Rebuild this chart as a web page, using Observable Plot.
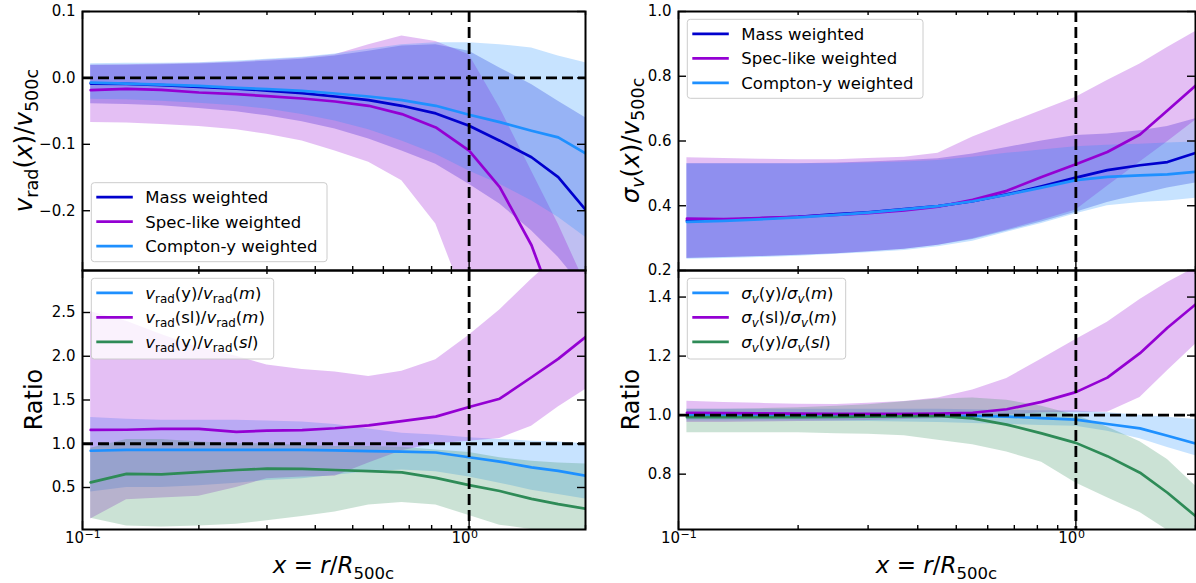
<!DOCTYPE html>
<html><head><meta charset="utf-8">
<script src="https://cdn.jsdelivr.net/npm/d3@7"></script>
<script src="https://cdn.jsdelivr.net/npm/@observablehq/plot@0.6"></script>
<style>
body{margin:0;background:#fff;}
#fig{position:relative;width:1196px;height:583px;font-family:"DejaVu Sans",sans-serif;overflow:hidden;}
</style></head><body><div id="fig"></div>
<script>
// radial bins x = r/R500c
const xs = [0.105, 0.13, 0.16, 0.2, 0.25, 0.3, 0.37, 0.45, 0.55, 0.67, 0.82, 1.0, 1.2, 1.45, 1.7, 2.0];
const xMajor = [0.1, 1];
const xMinor = [0.2, 0.3, 0.4, 0.5, 0.6, 0.7, 0.8, 0.9, 2];
const xMajorBase = ["10", "10"];
const xMajorExp = ["\u22121", "0"];

// top-left: v_rad / v500c
const vradMass   = [-0.0085, -0.009, -0.011, -0.0135, -0.016, -0.019, -0.023, -0.028, -0.0335, -0.042, -0.0535, -0.072, -0.0945, -0.1195, -0.1495, -0.1985];
const vradMassLo = [-0.039, -0.04, -0.042, -0.046, -0.051, -0.057, -0.066, -0.077, -0.092, -0.11, -0.13, -0.16, -0.19, -0.23, -0.27, -0.32];
const vradMassHi = [0.019, 0.019, 0.02, 0.021, 0.023, 0.025, 0.028, 0.033, 0.04, 0.048, 0.05, 0.04, 0.015, -0.01, -0.035, -0.06];
const vradSpec   = [-0.0185, -0.0165, -0.018, -0.022, -0.0245, -0.0275, -0.031, -0.0355, -0.042, -0.0545, -0.0745, -0.1095, -0.1645, -0.252, -0.36, -0.48];
const vradSpecLo = [-0.067, -0.068, -0.07, -0.073, -0.078, -0.085, -0.095, -0.11, -0.127, -0.155, -0.22, -0.35, -0.45, -0.55, -0.65, -0.75];
const vradSpecHi = [0.019, 0.02, 0.021, 0.022, 0.024, 0.027, 0.03, 0.035, 0.05, 0.063, 0.055, 0.035, -0.045, -0.14, -0.22, -0.31];
const vradY      = [-0.007, -0.0085, -0.01, -0.012, -0.015, -0.017, -0.0195, -0.0235, -0.028, -0.0335, -0.042, -0.0555, -0.0665, -0.0795, -0.0895, -0.1135];
const vradYLo    = [-0.032, -0.033, -0.035, -0.038, -0.042, -0.047, -0.055, -0.065, -0.078, -0.095, -0.115, -0.14, -0.16, -0.185, -0.21, -0.24];
const vradYHi    = [0.0215, 0.022, 0.022, 0.023, 0.0255, 0.028, 0.031, 0.036, 0.043, 0.05, 0.053, 0.053, 0.05, 0.045, 0.033, 0.023];

// bottom-left: v_rad ratios
const rYM   = [0.92, 0.93, 0.93, 0.93, 0.93, 0.93, 0.93, 0.925, 0.915, 0.91, 0.9, 0.846, 0.796, 0.73, 0.69, 0.635];
const rYMLo = [0.45, 0.5, 0.5, 0.52, 0.55, 0.58, 0.6, 0.64, 0.68, 0.7, 0.68, 0.62, 0.55, 0.47, 0.42, 0.37];
const rYMHi = [1.3, 1.28, 1.27, 1.27, 1.27, 1.26, 1.25, 1.22, 1.17, 1.12, 1.1, 1.07, 1.05, 1.03, 1.02, 1.0];
const rSM   = [1.158, 1.16, 1.17, 1.17, 1.135, 1.15, 1.155, 1.177, 1.21, 1.258, 1.31, 1.42, 1.515, 1.76, 1.97, 2.22];
const rSMLo = [0.14, 0.36, 0.38, 0.4, 0.5, 0.6, 0.62, 0.63, 0.78, 0.92, 1.0, 1.03, 1.06, 1.2, 1.42, 1.62];
const rSMHi = [2.51, 2.4, 2.25, 2.1, 2.0, 1.9, 1.85, 1.82, 1.77, 1.83, 1.96, 2.24, 2.53, 2.88, 3.15, 3.4];
const rYS   = [0.558, 0.655, 0.65, 0.675, 0.7, 0.715, 0.712, 0.7, 0.688, 0.673, 0.61, 0.527, 0.46, 0.37, 0.31, 0.258];
const rYSLo = [0.15, 0.06, 0.05, 0.06, 0.08, 0.12, 0.17, 0.22, 0.3, 0.33, 0.3, 0.18, 0.07, 0.02, 0.01, 0.0];
const rYSHi = [0.95, 1.05, 1.05, 1.02, 1.0, 1.0, 0.98, 0.97, 0.97, 0.96, 0.93, 0.9, 0.84, 0.8, 0.78, 0.77];

// top-right: sigma_v / v500c
const sigMass   = [0.354, 0.356, 0.361, 0.366, 0.374, 0.38, 0.39, 0.399, 0.414, 0.435, 0.46, 0.487, 0.51, 0.525, 0.535, 0.563];
const sigMassLo = [0.237, 0.24, 0.243, 0.247, 0.252, 0.258, 0.266, 0.278, 0.296, 0.322, 0.35, 0.38, 0.41, 0.435, 0.455, 0.47];
const sigMassHi = [0.53, 0.53, 0.53, 0.53, 0.532, 0.535, 0.54, 0.545, 0.56, 0.58, 0.6, 0.617, 0.622, 0.632, 0.645, 0.669];
const sigSpec   = [0.36, 0.359, 0.362, 0.366, 0.372, 0.377, 0.386, 0.397, 0.418, 0.446, 0.489, 0.528, 0.566, 0.62, 0.694, 0.771];
const sigSpecLo = [0.238, 0.24, 0.243, 0.247, 0.252, 0.258, 0.266, 0.278, 0.298, 0.325, 0.355, 0.387, 0.46, 0.535, 0.598, 0.664];
const sigSpecHi = [0.548, 0.546, 0.544, 0.542, 0.542, 0.546, 0.55, 0.562, 0.612, 0.653, 0.694, 0.735, 0.787, 0.838, 0.889, 0.938];
const sigY      = [0.35, 0.353, 0.358, 0.364, 0.372, 0.379, 0.389, 0.399, 0.414, 0.434, 0.456, 0.479, 0.489, 0.494, 0.497, 0.505];
const sigYLo    = [0.235, 0.237, 0.24, 0.244, 0.25, 0.255, 0.262, 0.273, 0.29, 0.318, 0.345, 0.375, 0.4, 0.41, 0.415, 0.423];
const sigYHi    = [0.53, 0.53, 0.53, 0.53, 0.53, 0.532, 0.535, 0.54, 0.55, 0.562, 0.572, 0.582, 0.587, 0.59, 0.594, 0.597];

// bottom-right: sigma_v ratios
const sYM   = [0.999, 0.999, 0.999, 0.999, 0.999, 0.999, 0.999, 0.998, 0.997, 0.995, 0.99, 0.985, 0.97, 0.955, 0.93, 0.904];
const sYMLo = [0.98, 0.98, 0.98, 0.98, 0.979, 0.978, 0.977, 0.975, 0.972, 0.968, 0.965, 0.962, 0.945, 0.92, 0.89, 0.862];
const sYMHi = [1.02, 1.02, 1.02, 1.02, 1.02, 1.02, 1.02, 1.02, 1.018, 1.016, 1.015, 1.014, 1.008, 1.0, 0.993, 0.985];
const sSM   = [1.008, 1.007, 1.006, 1.005, 1.004, 1.004, 1.004, 1.005, 1.008, 1.02, 1.045, 1.078, 1.127, 1.21, 1.296, 1.375];
const sSMLo = [0.975, 0.975, 0.977, 0.978, 0.98, 0.982, 0.985, 0.988, 0.993, 1.0, 1.008, 1.01, 1.01, 1.06, 1.15, 1.24];
const sSMHi = [1.047, 1.043, 1.04, 1.037, 1.036, 1.04, 1.046, 1.058, 1.085, 1.124, 1.19, 1.256, 1.315, 1.392, 1.449, 1.5];
const sYS   = [0.993, 0.993, 0.993, 0.993, 0.994, 0.995, 0.996, 0.997, 0.989, 0.968, 0.938, 0.906, 0.861, 0.805, 0.737, 0.658];
const sYSLo = [0.94, 0.94, 0.94, 0.94, 0.937, 0.935, 0.93, 0.915, 0.9, 0.875, 0.84, 0.77, 0.72, 0.67, 0.61, 0.58];
const sYSHi = [1.02, 1.02, 1.022, 1.025, 1.03, 1.035, 1.045, 1.055, 1.058, 1.05, 1.03, 1.0, 0.96, 0.91, 0.85, 0.76];

const cMass = "#0000cd", cSpec = "#9400d3", cY = "#1e90ff", cGreen = "#2e8b57";

const fig = document.getElementById("fig");

function makePanel(o) {
  const pw = o.width - o.mL - o.mR, ph = o.height - o.mT - o.mB;
  const rows = xs.map((x, i) => ({x, i}));
  const dash = {stroke: "black", strokeWidth: 2.8, strokeDasharray: "11,5"};
  const tk = {stroke: "black", strokeWidth: 1.4};
  const marks = [];
  o.bands.forEach(b => marks.push(Plot.areaY(rows, {x: "x", y1: d => b.lo[d.i], y2: d => b.hi[d.i], fill: b.color, fillOpacity: 0.25, clip: true})));
  o.lines.forEach(l => marks.push(Plot.line(rows, {x: "x", y: d => l.v[d.i], stroke: l.color, strokeWidth: 2.7, clip: true})));
  if (o.hline != null) marks.push(Plot.ruleY([o.hline], dash));
  marks.push(Plot.ruleX([1], dash));
  marks.push(Plot.ruleY(o.yTicks, {y: d => d, insetRight: pw - 8, ...tk}));
  marks.push(Plot.ruleY(o.yTicks, {y: d => d, insetLeft: pw - 8, ...tk}));
  marks.push(Plot.ruleX(xMajor, {x: d => d, insetTop: ph - 8, ...tk}));
  marks.push(Plot.ruleX(xMajor, {x: d => d, insetBottom: ph - 8, ...tk}));
  marks.push(Plot.ruleX(xMinor, {x: d => d, insetTop: ph - 4, ...tk}));
  marks.push(Plot.ruleX(xMinor, {x: d => d, insetBottom: ph - 4, ...tk}));
  marks.push(Plot.axisY({ticks: o.yTicks, tickSize: 0, tickPadding: 7, tickFormat: d3.format(o.fmt), fontSize: 15, label: null}));
  if (o.xAxis) {
    const idx = xMajor.map((d, i) => i);
    marks.push(Plot.text(idx, {x: i => xMajor[i], text: i => xMajorBase[i], frameAnchor: "bottom", textAnchor: "end", dx: 1.5, dy: 13.5, fontSize: 15}));
    marks.push(Plot.text(idx, {x: i => xMajor[i], text: i => xMajorExp[i], frameAnchor: "bottom", textAnchor: "start", dx: 2, dy: 8.5, fontSize: 11}));
  }
  marks.push(Plot.frame({stroke: "black", strokeWidth: 2}));
  const svg = Plot.plot({
    width: o.width, height: o.height,
    marginLeft: o.mL, marginRight: o.mR, marginTop: o.mT, marginBottom: o.mB,
    x: {type: "log", domain: [0.1, 2], axis: null}, y: {domain: o.yDomain},
    style: {fontFamily: "DejaVu Sans", fontSize: "15px", color: "black", background: "transparent", overflow: "visible"},
    marks
  });
  svg.style.position = "absolute";
  svg.style.left = o.left + "px";
  svg.style.top = o.top + "px";
  fig.appendChild(svg);
}

// Top-left
makePanel({left: 0, top: 0, width: 600, height: 280, mL: 82, mR: 15, mT: 11, mB: 10,
  yDomain: [-0.29, 0.1], yTicks: [-0.2, -0.1, 0, 0.1], fmt: ".1f", hline: 0, xAxis: false,
  bands: [{lo: vradMassLo, hi: vradMassHi, color: cMass}, {lo: vradSpecLo, hi: vradSpecHi, color: cSpec}, {lo: vradYLo, hi: vradYHi, color: cY}],
  lines: [{v: vradMass, color: cMass}, {v: vradSpec, color: cSpec}, {v: vradY, color: cY}]});
// Bottom-left
makePanel({left: 0, top: 260, width: 600, height: 323, mL: 82, mR: 15, mT: 10, mB: 54,
  yDomain: [0.02, 2.98], yTicks: [0.5, 1, 1.5, 2, 2.5], fmt: ".1f", hline: 1, xAxis: true,
  bands: [{lo: rYMLo, hi: rYMHi, color: cY}, {lo: rSMLo, hi: rSMHi, color: cSpec}, {lo: rYSLo, hi: rYSHi, color: cGreen}],
  lines: [{v: rYM, color: cY}, {v: rSM, color: cSpec}, {v: rYS, color: cGreen}]});
// Top-right
makePanel({left: 596, top: 0, width: 600, height: 280, mL: 82, mR: 1, mT: 11, mB: 10,
  yDomain: [0.2, 1.0], yTicks: [0.2, 0.4, 0.6, 0.8, 1.0], fmt: ".1f", hline: null, xAxis: false,
  bands: [{lo: sigMassLo, hi: sigMassHi, color: cMass}, {lo: sigSpecLo, hi: sigSpecHi, color: cSpec}, {lo: sigYLo, hi: sigYHi, color: cY}],
  lines: [{v: sigMass, color: cMass}, {v: sigSpec, color: cSpec}, {v: sigY, color: cY}]});
// Bottom-right
makePanel({left: 596, top: 260, width: 600, height: 323, mL: 82, mR: 1, mT: 10, mB: 54,
  yDomain: [0.6125, 1.49], yTicks: [0.8, 1.0, 1.2, 1.4], fmt: ".1f", hline: 1, xAxis: true,
  bands: [{lo: sYMLo, hi: sYMHi, color: cY}, {lo: sSMLo, hi: sSMHi, color: cSpec}, {lo: sYSLo, hi: sYSHi, color: cGreen}],
  lines: [{v: sYM, color: cY}, {v: sSM, color: cSpec}, {v: sYS, color: cGreen}]});

// ---------- overlay: axis labels and legends ----------
const ov = d3.select(fig).append("svg")
  .attr("width", 1196).attr("height", 583)
  .style("position", "absolute").style("left", "0px").style("top", "0px")
  .style("font-family", "DejaVu Sans");

function rich(t, segs, size) {
  let shift = 0;
  for (const s of segs) {
    const sp = t.append("tspan").text(s.t);
    const target = s.sub ? size * 0.24 : 0;
    if (target !== shift) { sp.attr("dy", target - shift); shift = target; }
    if (s.sub) sp.attr("font-size", size * 0.72);
    if (s.i) sp.attr("font-style", "italic");
  }
}
function label(x, y, segs, size, rotate) {
  const t = ov.append("text").attr("font-size", size).attr("text-anchor", "middle")
    .attr("transform", `translate(${x},${y})` + (rotate ? " rotate(-90)" : ""));
  rich(t, segs, size);
}
const I = t => ({t, i: true}), S = t => ({t, sub: true}), SI = t => ({t, sub: true, i: true}), P = t => ({t});

label(32, 140.5, [I("v"), S("rad"), P("("), I("x"), P(")/"), I("v"), S("500c")], 24.5, true);
label(42, 399.5, [P("Ratio")], 24, true);
label(638.5, 140.5, [I("σ"), SI("v"), P("("), I("x"), P(")/"), I("v"), S("500c")], 24.5, true);
label(638.5, 399.5, [P("Ratio")], 24, true);
label(333.5, 573, [I("x"), P(" = "), I("r"), P("/"), I("R"), S("500c")], 23, false);
label(936.5, 573, [I("x"), P(" = "), I("r"), P("/"), I("R"), S("500c")], 23, false);

function legend(x, y, w, h, entries) {
  const g = ov.append("g");
  g.append("rect").attr("x", x).attr("y", y).attr("width", w).attr("height", h).attr("rx", 3)
    .attr("fill", "white").attr("fill-opacity", 0.8).attr("stroke", "#cccccc").attr("stroke-width", 1);
  entries.forEach((e, k) => {
    const ry = y + 14.5 + k * 24.5;
    g.append("line").attr("x1", x + 5).attr("x2", x + 41.5).attr("y1", ry).attr("y2", ry)
      .attr("stroke", e.color).attr("stroke-width", 2.8);
    const t = g.append("text").attr("x", x + 54).attr("y", ry + 6).attr("font-size", 16.5);
    rich(t, e.segs, 16.5);
  });
}
legend(91.3, 182.7, 235.7, 79, [
  {color: cMass, segs: [P("Mass weighted")]},
  {color: cSpec, segs: [P("Spec-like weighted")]},
  {color: cY, segs: [P("Compton-y weighted")]}]);
legend(687.3, 19.3, 235.7, 79, [
  {color: cMass, segs: [P("Mass weighted")]},
  {color: cSpec, segs: [P("Spec-like weighted")]},
  {color: cY, segs: [P("Compton-y weighted")]}]);
legend(91.3, 278.3, 182.4, 80.7, [
  {color: cY, segs: [I("v"), S("rad"), P("(y)/"), I("v"), S("rad"), P("("), I("m"), P(")")]},
  {color: cSpec, segs: [I("v"), S("rad"), P("(sl)/"), I("v"), S("rad"), P("("), I("m"), P(")")]},
  {color: cGreen, segs: [I("v"), S("rad"), P("(y)/"), I("v"), S("rad"), P("("), I("sl"), P(")")]}]);
legend(687.3, 278.3, 158.4, 80.7, [
  {color: cY, segs: [I("σ"), SI("v"), P("(y)/"), I("σ"), SI("v"), P("("), I("m"), P(")")]},
  {color: cSpec, segs: [I("σ"), SI("v"), P("(sl)/"), I("σ"), SI("v"), P("("), I("m"), P(")")]},
  {color: cGreen, segs: [I("σ"), SI("v"), P("(y)/"), I("σ"), SI("v"), P("("), I("sl"), P(")")]}]);
</script>
</body></html>
